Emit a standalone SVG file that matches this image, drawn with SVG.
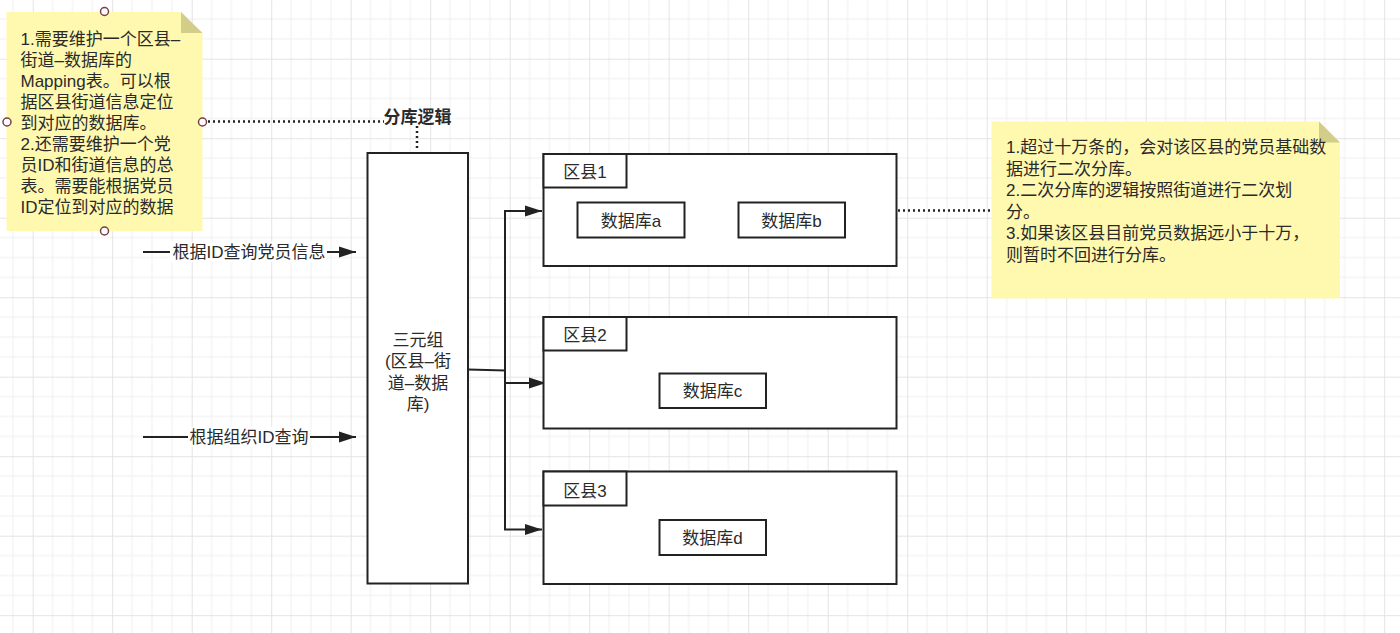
<svg xmlns="http://www.w3.org/2000/svg" width="1400" height="633" viewBox="0 0 1400 633">
<defs>
<pattern id="grid" patternUnits="userSpaceOnUse" x="32.7" y="58.7" width="79.5" height="79.5">
<path d="M19.875,0V79.5M39.75,0V79.5M59.625,0V79.5M0,19.875H79.5M0,39.75H79.5M0,59.625H79.5" stroke="#f0f0f0" stroke-width="1" fill="none"/>
<path d="M0.5,0V79.5M0,0.5H79.5" stroke="#e3e3e3" stroke-width="1" fill="none"/>
</pattern>
<marker id="arr" markerUnits="userSpaceOnUse" markerWidth="18" markerHeight="12" refX="17" refY="6" orient="auto">
<path d="M0,0.5 L17,6 L0,11.5 Z" fill="#222"/>
</marker>
<style>
text{font-family:"Liberation Sans","Noto Sans CJK SC",sans-serif;font-size:17px;fill:#2a2a2a}
.c{text-anchor:middle}
.box{fill:#fff;stroke:#222;stroke-width:2}
.note{fill:#fff9b0}
.fold{fill:#d2cd88}
.dot{fill:none;stroke:#222;stroke-width:2.5;stroke-dasharray:2 3}
.ln{fill:none;stroke:#222;stroke-width:2}
.h{fill:#fff;stroke:#7a3f45;stroke-width:1.5}
</style>
</defs>
<rect width="1400" height="633" fill="#fff"/>
<rect width="1400" height="633" fill="url(#grid)"/>

<g id="connectors">
<path class="dot" d="M208,121.5 H384"/>
<path class="dot" d="M417,126 V151"/>
<path class="dot" d="M898,210.5 H991"/>
<path class="ln" d="M143,252 H356" marker-end="url(#arr)"/>
<path class="ln" d="M143,437 H356" marker-end="url(#arr)"/>
<path class="ln" d="M468,369.5 L505,370.5 V211 H542" marker-end="url(#arr)"/>
<path class="ln" d="M505,370.5 V383 H546" marker-end="url(#arr)"/>
<path class="ln" d="M505,370.5 V529.5 H542" marker-end="url(#arr)"/>
<rect x="170" y="242" width="157" height="20" fill="#fff"/>
<text class="c" x="249" y="258">根据ID查询党员信息</text>
<rect x="188" y="427" width="122" height="20" fill="#fff"/>
<text class="c" x="249" y="443">根据组织ID查询</text>
<text class="c" x="417.5" y="123" style="font-weight:bold">分库逻辑</text>
</g>

<g id="note1">
<path class="note" d="M6.5,12 H181 L202.5,33 V231 H6.5 Z"/>
<path class="fold" d="M181,12 V33 H202.5 Z"/>
<text x="20.5" y="44.5">1.需要维护一个区县–</text>
<text x="20.5" y="65.5">街道–数据库的</text>
<text x="20.5" y="86.5">Mapping表。可以根</text>
<text x="20.5" y="107.5">据区县街道信息定位</text>
<text x="20.5" y="128.5">到对应的数据库。</text>
<text x="20.5" y="149.5">2.还需要维护一个党</text>
<text x="20.5" y="170.5">员ID和街道信息的总</text>
<text x="20.5" y="191.5">表。需要能根据党员</text>
<text x="20.5" y="212.5">ID定位到对应的数据</text>
<circle class="h" cx="104.5" cy="11.5" r="4"/>
<circle class="h" cx="7" cy="122" r="4"/>
<circle class="h" cx="202.5" cy="122" r="4"/>
<circle class="h" cx="104.5" cy="231" r="4"/>
</g>

<g id="sanyuanzu">
<rect class="box" x="367.5" y="153" width="100.5" height="430.5"/>
<text class="c" x="418" y="345.5">三元组</text>
<text class="c" x="418" y="367">(区县–街</text>
<text class="c" x="418" y="388.5">道–数据</text>
<text class="c" x="418" y="409.5">库)</text>
</g>

<g id="quxian1">
<rect class="box" x="543.5" y="154" width="353" height="112"/>
<rect class="box" x="543.5" y="154" width="83" height="33.5"/>
<text class="c" x="585" y="178">区县1</text>
</g>
<g id="db-a">
<rect class="box" x="577.5" y="202.5" width="107" height="35"/>
<text class="c" x="631" y="226.5">数据库a</text>
</g>
<g id="db-b">
<rect class="box" x="738.5" y="202.5" width="106.5" height="35"/>
<text class="c" x="791.5" y="226.5">数据库b</text>
</g>

<g id="quxian2">
<rect class="box" x="543.5" y="317" width="353" height="111.5"/>
<rect class="box" x="543.5" y="317" width="83" height="33.5"/>
<text class="c" x="585" y="340.5">区县2</text>
</g>
<g id="db-c">
<rect class="box" x="659.5" y="373.5" width="106.5" height="34.5"/>
<text class="c" x="712.5" y="397">数据库c</text>
</g>

<g id="quxian3">
<rect class="box" x="543.5" y="471.5" width="353" height="112.5"/>
<rect class="box" x="543.5" y="471.5" width="83" height="34"/>
<text class="c" x="585" y="496.5">区县3</text>
</g>
<g id="db-d">
<rect class="box" x="659.5" y="520" width="106.5" height="35"/>
<text class="c" x="712.5" y="544">数据库d</text>
</g>

<g id="note2">
<path class="note" d="M991.5,121.5 H1319 L1340,142.5 V298.5 H991.5 Z"/>
<path class="fold" d="M1319,121.5 V142.5 H1340 Z"/>
<text x="1006" y="153">1.超过十万条的，会对该区县的党员基础数</text>
<text x="1006" y="174.5">据进行二次分库。</text>
<text x="1006" y="196">2.二次分库的逻辑按照街道进行二次划</text>
<text x="1006" y="217.5">分。</text>
<text x="1006" y="239">3.如果该区县目前党员数据远小于十万，</text>
<text x="1006" y="260.5">则暂时不回进行分库。</text>
</g>
</svg>
